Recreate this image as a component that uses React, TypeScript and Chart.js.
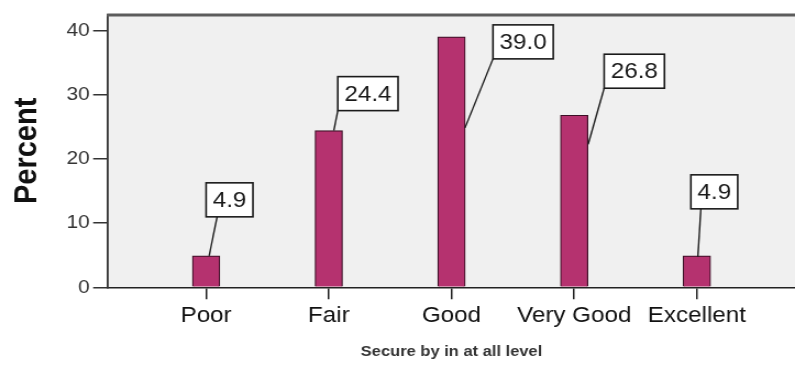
import { useEffect, useRef } from 'react';
import { Chart, registerables } from 'chart.js';

Chart.register(...registerables);

const categories = ['Poor', 'Fair', 'Good', 'Very Good', 'Excellent'];
const percents = [4.9, 24.4, 39.0, 26.8, 4.9];
const yTickValues = [0, 10, 20, 30, 40];

// The chart is drawn on a narrower backing canvas and widened by CSS,
// which gives the wide lettering of the SPSS export.
const OUT_W = 795;
const OUT_H = 365;
const SX = 1.1;
const CANVAS_W = Math.round(OUT_W / SX);

const FAMILY = '"Liberation Sans", Arial, Helvetica, sans-serif';

// Plot frame (page pixels; x is divided by SX for the backing canvas)
const PLOT_LEFT = 108 / SX;
const PLOT_RIGHT = 802 / SX;
const PLOT_TOP = 13;
const PLOT_BOTTOM = 287.3;

// Callout placement for each bar: box offset from bar centre / bar top,
// leader start on the bar, leader end measured from the box's left edge.
const calloutPlacement = [
  { boxDx: 0, boxDy: -39, fromDx: 3, fromDy: 0, toDx: 11 },
  { boxDx: 9, boxDy: -20, fromDx: 5, fromDy: 0, toDx: 0 },
  { boxDx: 41.5, boxDy: 22, fromDx: 13.5, fromDy: 91, toDx: 0 },
  { boxDx: 30, boxDy: -27, fromDx: 14, fromDy: 29, toDx: 0 },
  { boxDx: -6, boxDy: -47, fromDx: 1, fromDy: 1, toDx: 10 },
];

const plotBackground = {
  id: 'plotBackground',
  beforeDraw(chart: any) {
    const { ctx, chartArea: a } = chart;
    ctx.save();
    ctx.fillStyle = '#F0F0F0';
    ctx.fillRect(a.left, a.top, a.right - a.left, a.bottom - a.top);
    ctx.restore();
  },
  afterDraw(chart: any) {
    const { ctx, chartArea: a } = chart;
    ctx.save();
    ctx.strokeStyle = '#5c5c5c';
    ctx.lineWidth = 3;
    ctx.beginPath();
    ctx.moveTo(a.left - 1, a.top + 0.5);
    ctx.lineTo(a.right, a.top + 0.5);
    ctx.stroke();
    ctx.restore();
  },
};

const callouts = {
  id: 'callouts',
  afterDatasetsDraw(chart: any) {
    const { ctx } = chart;
    const meta = chart.getDatasetMeta(0);
    ctx.save();
    ctx.font = `22px ${FAMILY}`;
    meta.data.forEach((bar: any, i: number) => {
      const p = calloutPlacement[i];
      const text = percents[i].toFixed(1);
      const cx = bar.x;
      const top = bar.y;
      const w = ctx.measureText(text).width + 12;
      const h = 34;
      const left = cx + p.boxDx / SX;
      const bottom = top + p.boxDy;

      ctx.strokeStyle = '#202020';
      ctx.lineWidth = 1.4;
      ctx.beginPath();
      ctx.moveTo(cx + p.fromDx / SX, top + p.fromDy);
      ctx.lineTo(left + p.toDx / SX, bottom);
      ctx.stroke();

      ctx.fillStyle = '#ffffff';
      ctx.fillRect(left, bottom - h, w, h);
      ctx.lineWidth = 1.6;
      ctx.strokeStyle = '#1a1a1a';
      ctx.strokeRect(left, bottom - h, w, h);

      ctx.fillStyle = '#1a1a1a';
      ctx.textAlign = 'center';
      ctx.textBaseline = 'middle';
      ctx.fillText(text, left + w / 2, bottom - h / 2 + 1);
    });
    ctx.restore();
  },
};

export default function App() {
  const canvasRef = useRef<HTMLCanvasElement | null>(null);

  useEffect(() => {
    const canvas = canvasRef.current;
    if (!canvas) return;

    const chart = new Chart(canvas, {
      type: 'bar',
      data: {
        datasets: [
          {
            label: 'Percent',
            data: categories.map((_, i) => ({ x: i + 1, y: percents[i] })),
            backgroundColor: '#B5326F',
            borderColor: '#3C1026',
            borderWidth: 1.2,
            barThickness: 25,
          },
        ],
      },
      options: {
        animation: false,
        responsive: false,
        devicePixelRatio: 1,
        layout: {
          padding: { top: PLOT_TOP, left: 0, bottom: 0, right: CANVAS_W - PLOT_RIGHT },
        },
        plugins: {
          legend: { display: false },
          tooltip: { enabled: false },
        },
        scales: {
          x: {
            type: 'linear',
            min: 0.2,
            max: 5.8,
            offset: false,
            afterBuildTicks: (s: any) => {
              s.ticks = categories.map((_, i) => ({ value: i + 1 }));
            },
            afterFit: (s: any) => {
              s.height = OUT_H - PLOT_BOTTOM;
            },
            grid: {
              display: true,
              offset: false,
              drawOnChartArea: false,
              drawTicks: true,
              tickLength: 12,
              color: '#222222',
              lineWidth: 1.5,
            },
            border: { display: true, color: '#222222', width: 1.5 },
            ticks: {
              autoSkip: false,
              maxRotation: 0,
              padding: 3,
              color: '#111111',
              font: { family: FAMILY, size: 22, lineHeight: 1.2 },
              callback: (_v: any, idx: number) => categories[idx] ?? '',
            },
            title: {
              display: true,
              text: 'Secure by in at all level',
              color: '#333333',
              font: { family: FAMILY, size: 15, weight: 'bold', lineHeight: 1 },
              padding: { top: 0, bottom: 6 },
            },
          },
          y: {
            min: 0,
            max: 42.5,
            afterBuildTicks: (s: any) => {
              s.ticks = yTickValues.map((v) => ({ value: v }));
            },
            afterFit: (s: any) => {
              s.width = PLOT_LEFT;
            },
            grid: {
              display: true,
              drawOnChartArea: false,
              drawTicks: true,
              tickLength: 13.5,
              color: '#333333',
              lineWidth: 1.5,
            },
            border: { display: true, color: '#333333', width: 1.8 },
            ticks: {
              padding: 3,
              color: '#333333',
              font: { family: FAMILY, size: 19 },
            },
            title: {
              display: true,
              text: 'Percent',
              color: '#111111',
              font: { family: FAMILY, size: 29, weight: 'bold', lineHeight: 1 },
              padding: { top: 10, bottom: 0 },
            },
          },
        },
      },
      plugins: [plotBackground, callouts],
    } as any);

    return () => chart.destroy();
  }, []);

  return (
    <div style={{ position: 'fixed', left: 0, top: 0, width: OUT_W, height: OUT_H, background: '#ffffff' }}>
      <canvas
        ref={canvasRef}
        width={CANVAS_W}
        height={OUT_H}
        style={{ width: `${OUT_W}px`, height: `${OUT_H}px`, display: 'block' }}
      />
    </div>
  );
}
